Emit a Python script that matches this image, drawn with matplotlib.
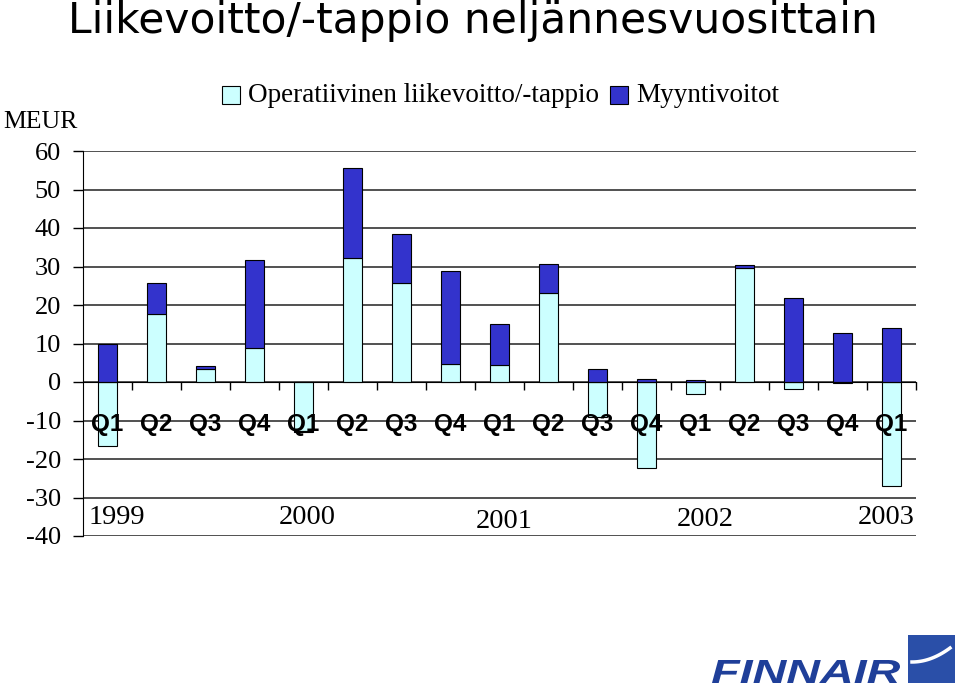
import numpy as np
import matplotlib
matplotlib.use('Agg')
import matplotlib.pyplot as plt
from matplotlib.patches import Rectangle, PathPatch
from matplotlib.textpath import TextPath
from matplotlib.font_manager import FontProperties
from matplotlib.transforms import Affine2D

quarters = ['Q1', 'Q2', 'Q3', 'Q4'] * 4 + ['Q1']
years = ['1999', '2000', '2001', '2002', '2003']
year_pos = [0.19, 4.07, 8.09, 12.2, 15.9]
year_y = [-35.1, -35.1, -36.2, -35.6, -35.1]

oper = [-16.5, 17.7, 3.5, 8.9, -12.7, 32.3, 25.8, 4.6, 4.3,
        23.1, -9.0, -22.4, -3.0, 29.6, -1.7, -0.3, -27.1]
gains = [10.0, 8.0, 0.7, 22.9, -0.4, 23.4, 12.7, 24.2, 10.7,
         7.5, 3.5, 0.9, 0.6, 0.7, 21.7, 12.7, 14.1]

light = '#CCFFFF'
dark = '#3333CC'
W, H = 960, 685

fig = plt.figure(figsize=(W / 100, H / 100), dpi=100)
ax = fig.add_axes([83 / W, 1 - 536 / H, (916 - 83) / W, (536 - 151) / H])

x = np.arange(len(oper))
oper = np.array(oper)
gains = np.array(gains)
bottom = np.where(gains >= 0, np.maximum(oper, 0), np.minimum(oper, 0))
ax.bar(x, oper, width=0.4, color=light, edgecolor='black', linewidth=0.8, zorder=3)
ax.bar(x, gains, bottom=bottom, width=0.4, color=dark, edgecolor='black', linewidth=0.8, zorder=3)

ax.set_xlim(-0.5, len(oper) - 0.5)
ax.set_ylim(-40, 60)
ax.set_yticks(np.arange(-40, 61, 10))
ax.set_yticklabels([str(v) for v in range(-40, 61, 10)], family='Liberation Serif', fontsize=19)
ax.yaxis.grid(True, color='#222222', linewidth=1.1, zorder=0)
ax.tick_params(axis='y', length=7, width=1, pad=9, direction='out')

ax.spines['top'].set_visible(False)
ax.spines['right'].set_visible(False)
ax.spines['bottom'].set_position(('data', 0))
ax.spines['bottom'].set_zorder(4)
ax.set_xticks(np.arange(0.5, len(oper), 1))
ax.set_xticklabels([])
ax.tick_params(axis='x', length=6, width=1, direction='out')

for i, q in enumerate(quarters):
    ax.text(i, -11, q, ha='center', va='center', family='Liberation Sans',
            fontweight='bold', fontsize=17.5, zorder=5)
for yp, yr, yy in zip(year_pos, years, year_y):
    ax.text(yp, yy, yr, ha='center', va='center', family='Liberation Serif', fontsize=20.5)

fig.text(3 / W, 1 - 122 / H, 'MEUR', family='Liberation Serif', fontsize=18.5, va='center')
fig.text(68 / W, 1 - 33 / H, 'Liikevoitto/-tappio neljännesvuosittain',
         family='DejaVu Sans', fontsize=30.5, va='baseline')

# legend
fig.patches.append(Rectangle((222 / W, 1 - 104 / H), 18 / W, 18 / H, transform=fig.transFigure,
                             facecolor=light, edgecolor='black', linewidth=0.8))
fig.text(248 / W, 1 - 96 / H, 'Operatiivinen liikevoitto/-tappio', family='Liberation Serif',
         fontsize=19.5, va='center')
fig.patches.append(Rectangle((610 / W, 1 - 104 / H), 18 / W, 18 / H, transform=fig.transFigure,
                             facecolor=dark, edgecolor='black', linewidth=0.8))
fig.text(636 / W, 1 - 96 / H, 'Myyntivoitot', family='Liberation Serif', fontsize=19.5, va='center')

# logo
tp = TextPath((0, 0), 'FINNAIR', size=30,
              prop=FontProperties(family='Liberation Sans', weight='bold', style='italic'))
ext = tp.get_extents()
sx = (900 - 712) / ext.width
sy = (683 - 660) / ext.height
tr = Affine2D().translate(-ext.x0, -ext.y0).scale(sx, sy).translate(712, H - 683)
fig.add_artist(PathPatch(tp, transform=tr, facecolor='#1f3f99', edgecolor='none'))
fig.patches.append(Rectangle((908 / W, 1 - 683 / H), 47 / W, 48 / H, transform=fig.transFigure,
                             facecolor='#2a4fa8', edgecolor='none'))
t = np.linspace(0, 1, 30)
fig.add_artist(plt.Line2D((912 + 38 * t) / W, 1 - (662 - 14 * t ** 2) / H, color='white', linewidth=2.5))

fig.savefig('out.png', dpi=100)
